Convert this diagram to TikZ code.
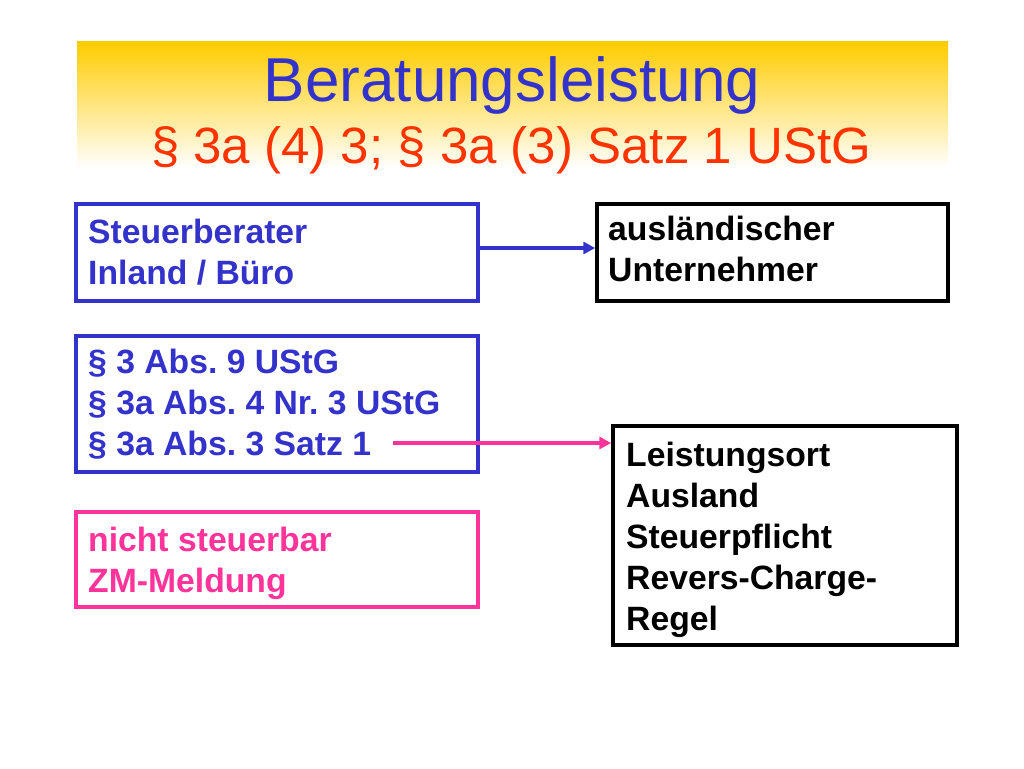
\documentclass[tikz,border=0pt]{standalone}
\usepackage{fontspec}
\setmainfont{Liberation Sans}
\usetikzlibrary{arrows.meta}
\definecolor{tblue}{RGB}{51,51,204}
\definecolor{tred}{RGB}{255,51,0}
\definecolor{tpink}{RGB}{255,51,153}
\definecolor{tyellow}{RGB}{255,204,0}
\tikzset{
  x=1pt, y=-1pt,
  box/.style={draw, line width=3.5pt, inner sep=0pt},
  boxtext/.style={anchor=base west, align=left, inner sep=0pt, font=\bfseries\frenchspacing\fontsize{33.7}{41}\selectfont},
  conn/.style={line width=3.5pt, -{Triangle[length=12pt,width=12pt]}}
}
\begin{document}
\begin{tikzpicture}
\useasboundingbox[fill=white] (0,0) rectangle (1024,768);
\shade[top color=tyellow, bottom color=white, draw=none] (77,42) rectangle (948,168);
\node[anchor=base, inner sep=0pt, text=tblue, font=\fontsize{62}{70}\selectfont] (title) at (512,101) {Beratungsleistung};
\node[anchor=base, inner sep=0pt, text=tred, font=\fontsize{51}{60}\selectfont] (subtitle) at (511,163) {§ 3a (4) 3; § 3a (3) Satz 1 UStG};
% boxes
\node[box, draw=tblue, minimum width=402pt, minimum height=97pt] (b1) at (277,252.5) {};
\node[box, draw=black, minimum width=351pt, minimum height=97pt] (b2) at (772.5,252.5) {};
\node[box, draw=tblue, minimum width=402pt, minimum height=136pt] (b3) at (277,404) {};
\node[box, draw=tpink, minimum width=402pt, minimum height=95pt] (b4) at (277,559.5) {};
\node[box, draw=black, minimum width=344pt, minimum height=219pt] (b5) at (785,535.5) {};
% texts (anchor = baseline of last line)
\node[boxtext, text=tblue] (t1) at (88,284) {Steuerberater\\Inland / Büro};
\node[boxtext, text=black] (t2) at (608,281) {ausländischer\\Unternehmer};
\node[boxtext, text=tblue] (t3) at (88,455) {§ 3 Abs. 9 UStG\\§ 3a Abs. 4 Nr. 3 UStG\\§ 3a Abs. 3 Satz 1};
\node[boxtext, text=tpink] (t4) at (88,592) {nicht steuerbar\\ZM-Meldung};
\node[boxtext, text=black] (t5) at (626,630) {Leistungsort\\Ausland\\Steuerpflicht\\Revers-Charge-\\Regel};
% connectors
\coordinate (p0) at (393,443);
\draw[conn, tblue] (b1.east |- 0,248) -- (b2.west |- 0,248);
\draw[conn, tpink] (p0) -- (b5.west |- p0);
\end{tikzpicture}
\end{document}
